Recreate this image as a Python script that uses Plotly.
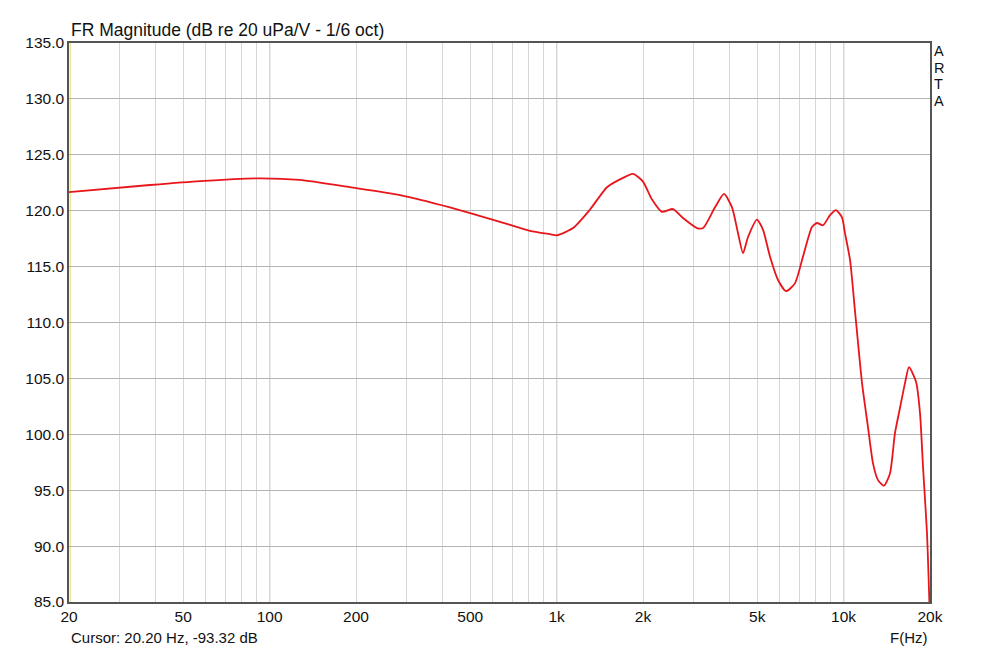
import plotly.graph_objects as go
import math

# Frequency response (Hz, dB)
freq_hz = [20, 38.3, 57.2, 92.6, 127.5, 190.6, 284.6, 425, 635, 808, 948, 1003,
           1141, 1307, 1498, 1663, 1846, 2000, 2150, 2330, 2544, 2757, 3086, 3238,
           3564, 3830, 4085, 4286, 4462, 4645, 4990, 5236, 5540, 5909, 6300, 6767,
           7220, 7760, 8080, 8478, 8968, 9410, 9872, 10110, 10530, 10960, 11590,
           12160, 12660, 13180, 13830, 14510, 15100, 15730, 16370, 16900, 17880,
           18460, 18910, 19520, 19900]
level_db = [121.67, 122.3, 122.65, 122.9, 122.75, 122.1, 121.4, 120.3, 119.0, 118.2,
            117.9, 117.8, 118.45, 120.1, 122.1, 122.8, 123.3, 122.6, 121.0, 119.9,
            120.15, 119.35, 118.45, 118.45, 120.3, 121.5, 120.3, 118.0, 116.2, 117.65,
            119.2, 118.3, 115.9, 113.8, 112.8, 113.5, 115.9, 118.55, 118.9, 118.7,
            119.6, 120.05, 119.4, 118.0, 115.6, 111.0, 104.6, 100.65, 97.4, 95.9,
            95.4, 96.5, 100.1, 102.4, 104.6, 106.0, 104.7, 101.9, 97.1, 91.2, 85.0]

y_ticks = [85, 90, 95, 100, 105, 110, 115, 120, 125, 130, 135]
x_label_vals = [20, 50, 100, 200, 500, 1000, 2000, 5000, 10000, 20000]
x_label_text = ["20", "50", "100", "200", "500", "1k", "2k", "5k", "10k", "20k"]
grid_freqs = ([d * m for d in (10, 100, 1000) for m in range(2, 10)] +
              [10000, 20000])
decade_lines = [100, 1000, 10000]
cursor_hz = 20.2

FONT = "Liberation Sans, Arial, sans-serif"

fig = go.Figure()
fig.add_trace(go.Scatter(x=freq_hz, y=level_db, mode="lines",
                         line=dict(color="#e8161b", width=1.8, shape="spline", smoothing=0.6),
                         hoverinfo="skip", showlegend=False))

tickvals = sorted(set(grid_freqs + x_label_vals))
ticktext = [x_label_text[x_label_vals.index(v)] if v in x_label_vals else "" for v in tickvals]

fig.update_layout(
    width=984, height=639,
    margin=dict(l=61, r=62, t=35, b=45),
    paper_bgcolor="white", plot_bgcolor="white",
    font=dict(family=FONT, size=15, color="#111111"),
    xaxis=dict(type="log", range=[math.log10(20), math.log10(20000)],
               tickvals=tickvals, ticktext=ticktext, ticks="",
               showgrid=True, gridcolor="#d6d6d6", gridwidth=1,
               showline=True, linecolor="#555555", linewidth=1.5, mirror=True,
               zeroline=False, tickfont=dict(size=15.5)),
    yaxis=dict(range=[85, 135], tickvals=y_ticks, tickformat=".1f", ticks="",
               showgrid=True, gridcolor="#b4b4b4", gridwidth=1,
               showline=True, linecolor="#555555", linewidth=1.5, mirror=True,
               zeroline=False, tickfont=dict(size=15.5)),
)

for f in decade_lines:
    fig.add_shape(type="line", xref="x", yref="paper", x0=f, x1=f, y0=0, y1=1,
                  line=dict(color="#a0a0a0", width=1.2), layer="between")

fig.add_shape(type="line", xref="x", yref="paper", x0=cursor_hz, x1=cursor_hz, y0=0, y1=1,
              line=dict(color="#f0e8a0", width=1.5), layer="between")

fig.add_annotation(text="FR Magnitude (dB re 20 uPa/V - 1/6 oct)", xref="paper", yref="paper",
                   x=0.0, y=1.0, xanchor="left", yanchor="bottom", yshift=1, showarrow=False,
                   font=dict(size=17.5, color="#111111"))
fig.add_annotation(text="Cursor: 20.20 Hz, -93.32 dB", xref="paper", yref="paper",
                   x=0.0, y=0, xanchor="left", yanchor="top", yshift=-25, showarrow=False,
                   font=dict(size=15, color="#111111"))
fig.add_annotation(text="F(Hz)", xref="paper", yref="paper",
                   x=1.0, y=0, xanchor="right", yanchor="top", yshift=-25, showarrow=False,
                   font=dict(size=15, color="#111111"))
for i, ch in enumerate("ARTA"):
    fig.add_annotation(text=ch, xref="paper", yref="paper", x=1.0, y=1.0,
                       xanchor="left", yanchor="top", xshift=2, yshift=2 - 16.5 * i,
                       showarrow=False, font=dict(size=14.5, color="#111111"))

fig.write_html("out.html")
